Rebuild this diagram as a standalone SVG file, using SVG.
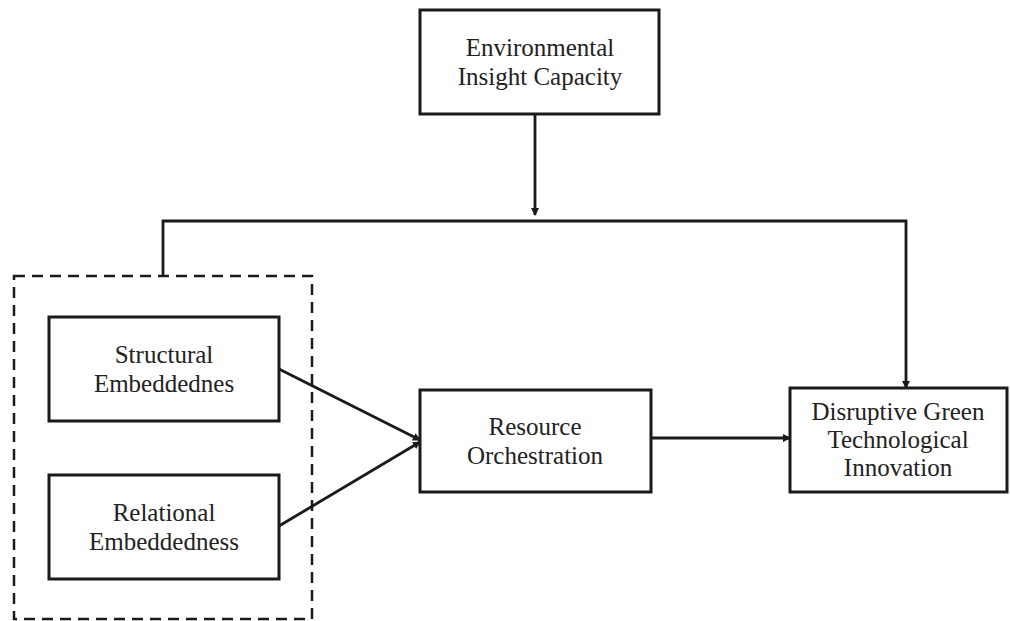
<svg xmlns="http://www.w3.org/2000/svg" width="1010" height="621" viewBox="0 0 1010 621">
<style>
.box{fill:#fff;stroke:#1a1a1a;stroke-width:3}
.t{font-family:"Liberation Serif","Times New Roman",serif;font-size:25px;fill:#222;text-anchor:middle}
.c{fill:none;stroke:#1a1a1a;stroke-width:2.8}
</style>
<defs>
<marker id="ah" markerWidth="8" markerHeight="8" refX="7" refY="4" orient="auto" markerUnits="userSpaceOnUse">
<path d="M0,0 L8,4 L0,8 z" fill="#1a1a1a"/>
</marker>
</defs>
<rect width="1010" height="621" fill="#fff"/>
<g id="group-dashed">
<rect x="14" y="276" width="298" height="343" fill="none" stroke="#1a1a1a" stroke-width="2.5" stroke-dasharray="11,7"/>
</g>
<g id="connectors">
<path class="c" d="M535,114 V215" marker-end="url(#ah)"/>
<path class="c" d="M163,276 V221 H906 V388" marker-end="url(#ah)"/>
<path class="c" d="M279,369 L420,440" marker-end="url(#ah)"/>
<path class="c" d="M279,526 L420,442" marker-end="url(#ah)"/>
<path class="c" d="M651,438 H790" marker-end="url(#ah)"/>
</g>
<g id="node-eic">
<rect class="box" x="420" y="10" width="239" height="104"/>
<text class="t" x="540" y="56">Environmental</text>
<text class="t" x="540" y="85">Insight Capacity</text>
</g>
<g id="node-se">
<rect class="box" x="49" y="317" width="230" height="104"/>
<text class="t" x="164" y="363">Structural</text>
<text class="t" x="164" y="392">Embeddednes</text>
</g>
<g id="node-re">
<rect class="box" x="49" y="475" width="230" height="104"/>
<text class="t" x="164" y="521">Relational</text>
<text class="t" x="164" y="550">Embeddedness</text>
</g>
<g id="node-ro">
<rect class="box" x="420" y="390" width="231" height="102"/>
<text class="t" x="535" y="435">Resource</text>
<text class="t" x="535" y="464">Orchestration</text>
</g>
<g id="node-dgti">
<rect class="box" x="790" y="388" width="217" height="104"/>
<text class="t" x="898" y="420">Disruptive Green</text>
<text class="t" x="898" y="448">Technological</text>
<text class="t" x="898" y="476">Innovation</text>
</g>
</svg>
